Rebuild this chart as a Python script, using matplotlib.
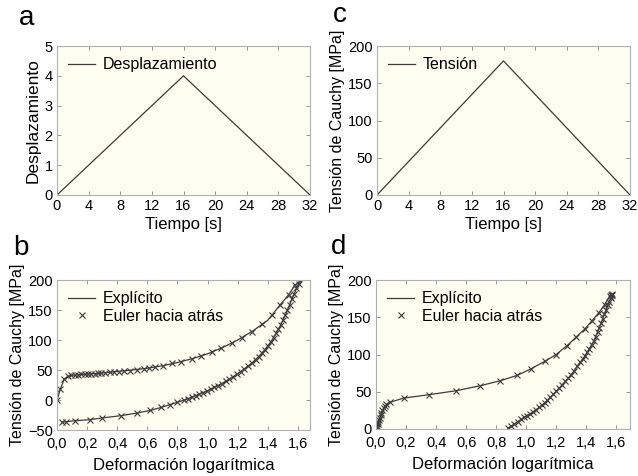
import matplotlib
matplotlib.use("Agg")
import matplotlib.pyplot as plt
from matplotlib.ticker import FuncFormatter

plt.rcParams['font.family'] = ['Liberation Sans', 'DejaVu Sans']

# ---- Data ----
time_s = [0, 16, 32]
displacement = [0, 4, 0]
stress_c = [0, 180, 0]

# Panel b: explicit line (loading then unloading)
b_line_x = [0, 0.022, 0.048, 0.073, 0.1, 0.15, 0.2, 0.3, 0.4, 0.5, 0.6, 0.7, 0.8, 0.9, 1.0, 1.1, 1.2, 1.3,
            1.4, 1.483, 1.538, 1.582, 1.625,
            1.605, 1.575, 1.545, 1.515, 1.485, 1.455, 1.42, 1.38, 1.34, 1.295, 1.245, 1.195, 1.145, 1.095,
            1.045, 0.995, 0.945, 0.895, 0.84, 0.797, 0.748, 0.693, 0.62, 0.531, 0.425, 0.299, 0.217, 0.122,
            0.062, 0.033]
b_line_y = [0, 18, 35, 39.4, 41.2, 42.4, 43.3, 45, 47.5, 50, 53, 57, 62.5, 69, 77, 87.5, 100, 115,
            133, 159, 175.5, 192, 199,
            194, 177, 159, 141, 125, 111, 97, 84, 72.5, 62, 52, 43, 35, 27.5,
            21, 15, 10, 4.5, -0.5, -4, -7.8, -12.3, -17.3, -21.7, -26.1, -30, -32.8, -34.5,
            -36.2, -37.3]

# Panel b: backward Euler points
b_mark_x = [0.0, 0.022, 0.048, 0.073, 0.095, 0.117, 0.139, 0.161, 0.183, 0.206, 0.228, 0.250, 0.272,
            0.294, 0.321, 0.349, 0.376, 0.409, 0.442, 0.487, 0.531, 0.575, 0.613, 0.653, 0.701, 0.764,
            0.825, 0.896, 0.956, 1.029, 1.091, 1.162, 1.228, 1.295, 1.361, 1.428, 1.483, 1.538, 1.582,
            1.605, 1.59, 1.575, 1.56, 1.545, 1.53, 1.515, 1.50, 1.485, 1.47, 1.455, 1.44, 1.42, 1.40,
            1.38, 1.36, 1.34, 1.32, 1.295, 1.27, 1.245, 1.22, 1.195, 1.17, 1.145, 1.12, 1.095, 1.07,
            1.045, 1.02, 0.995, 0.97, 0.945, 0.92, 0.895, 0.87, 0.84, 0.797, 0.748, 0.693, 0.620,
            0.531, 0.425, 0.299, 0.217, 0.122, 0.062, 0.033]
b_mark_y = [0, 18.3, 35, 39.4, 41, 41.6, 42.2, 42.7, 42.7, 43.3, 43.8, 43.8, 44.4,
            45, 45.5, 46, 46.6, 47.2, 47.7, 48.8, 50.5, 52, 53, 55, 57, 61,
            64, 68.3, 73.8, 79.3, 86, 95, 103, 114, 127, 142, 159, 175.5, 192,
            194, 186, 177, 168, 159, 150, 141, 133, 125, 118, 111, 104, 97, 90,
            84, 78, 72.5, 67.5, 62, 57, 52, 47.5, 43, 39, 35, 31, 27.5, 24,
            21, 18, 15, 12.5, 10, 7.5, 4.5, 2, -0.5, -4, -7.8, -12.3, -17.3,
            -21.7, -26.1, -30, -32.8, -34.5, -36.2, -37.3]

# Panel d: explicit line (loading then unloading)
d_line_x = [0, 0.01, 0.02, 0.035, 0.05, 0.065, 0.091, 0.186, 0.352, 0.534, 0.694, 0.827, 0.940, 1.033,
            1.122, 1.199, 1.272, 1.332, 1.388, 1.436, 1.481, 1.521, 1.554, 1.572,
            1.562, 1.542, 1.52, 1.498, 1.474, 1.45, 1.42, 1.39, 1.36, 1.32, 1.28, 1.24, 1.20, 1.16,
            1.122, 1.085, 1.045, 1.005, 0.965, 0.92, 0.878]
d_line_y = [0, 5, 11, 19, 26, 31, 35.7, 41.6, 46, 51.4, 58.1, 64.8, 72, 81,
            90.7, 100, 112, 123.5, 134, 145, 155.7, 166.8, 178, 181,
            176, 166, 154, 142, 130, 118.5, 108, 98, 90, 78.5, 68.5, 59.5, 51, 42.5,
            35, 29, 23, 18, 13, 6.5, 1]

# Panel d: backward Euler points
d_mark_x = [0.0, 0.004, 0.008, 0.012, 0.016, 0.02, 0.025, 0.03, 0.036, 0.043, 0.05, 0.058, 0.067,
            0.091, 0.186, 0.352, 0.534, 0.694, 0.827, 0.940, 1.033, 1.122, 1.199, 1.272, 1.332,
            1.388, 1.436, 1.481, 1.521, 1.554, 1.565, 1.572,
            1.57, 1.562, 1.552, 1.542, 1.532, 1.52, 1.51, 1.498, 1.486, 1.474, 1.462, 1.45, 1.435,
            1.42, 1.405, 1.39, 1.375, 1.36, 1.34, 1.32, 1.30, 1.28, 1.26, 1.24, 1.22, 1.20, 1.18,
            1.16, 1.14, 1.122, 1.105, 1.085, 1.065, 1.045, 1.025, 1.005, 0.985, 0.965, 0.944, 0.92,
            0.90, 0.878]
d_mark_y = [0, 2, 4.5, 7, 9.5, 12, 15, 18.5, 22, 25.5, 28.5, 31.5, 33.5,
            35.7, 41.6, 46, 51.4, 58.1, 64.8, 72, 81, 90.7, 100, 112, 123.5,
            134, 145, 155.7, 166.8, 178, 180, 181,
            180, 176, 171, 166, 160, 154, 148, 142, 136, 130, 124, 118.5, 113,
            108, 103, 98, 94, 90, 84, 78.5, 73, 68.5, 64, 59.5, 55, 51, 46.5,
            42.5, 38.5, 35, 32, 29, 26, 23, 20.5, 18, 15.5, 13, 10, 6.5,
            4, 1]

time_ticks = [0, 4, 8, 12, 16, 20, 24, 28, 32]
strain_ticks = [0.0, 0.2, 0.4, 0.6, 0.8, 1.0, 1.2, 1.4, 1.6]

# ---- Style ----
BG = '#fdfdf0'
LC = '#3c3c3c'
SP = '#b0b0b0'
TICK_FS = 10.5
LAB_FS = 12
YLAB_FS = 11.5
LEG_FS = 11.5

fig = plt.figure(figsize=(6.38, 4.76), dpi=100)
W, H = 638, 476

def make_ax(l, r, t, b):
    ax = fig.add_axes([l / W, 1 - b / H, (r - l) / W, (b - t) / H])
    ax.set_facecolor(BG)
    for s in ax.spines.values():
        s.set_color(SP)
        s.set_linewidth(0.8)
    ax.tick_params(direction='in', length=3, width=0.6, color='#888888', top=True, right=True,
                   labelsize=TICK_FS, pad=3)
    return ax

comma = FuncFormatter(lambda v, p: f"{v:.1f}".replace('.', ','))

ax_a = make_ax(57, 310, 46, 195)
ax_c = make_ax(377, 630, 46, 195)
ax_b = make_ax(57, 310, 280, 430)
ax_d = make_ax(376, 630, 280, 429)

# a
ax_a.plot(time_s, displacement, color=LC, lw=0.9, label='Desplazamiento')
ax_a.set_xlim(0, 32)
ax_a.set_ylim(0, 5)
ax_a.set_xticks(time_ticks)
ax_a.set_yticks([0, 1, 2, 3, 4, 5])
ax_a.set_xlabel('Tiempo [s]', fontsize=LAB_FS, labelpad=3)
ax_a.set_ylabel('Desplazamiento', fontsize=12.5, labelpad=3)

# c
ax_c.plot(time_s, stress_c, color=LC, lw=0.9, label='Tensión')
ax_c.set_xlim(0, 32)
ax_c.set_ylim(0, 200)
ax_c.set_xticks(time_ticks)
ax_c.set_yticks([0, 50, 100, 150, 200])
ax_c.set_xlabel('Tiempo [s]', fontsize=LAB_FS, labelpad=3)
ax_c.set_ylabel('Tensión de Cauchy [MPa]', fontsize=YLAB_FS, labelpad=2)

# b
ax_b.plot(b_line_x, b_line_y, color=LC, lw=0.9, label='Explícito')
ax_b.plot(b_mark_x, b_mark_y, ls='none', marker='x', ms=4, mew=0.8, color=LC, label='Euler hacia atrás')
ax_b.set_xlim(0, 1.68)
ax_b.set_ylim(-50, 200)
ax_b.set_xticks(strain_ticks)
ax_b.xaxis.set_major_formatter(comma)
ax_b.set_yticks([-50, 0, 50, 100, 150, 200])
ax_b.set_xlabel('Deformación logarítmica', fontsize=LAB_FS, labelpad=5)
ax_b.set_ylabel('Tensión de Cauchy [MPa]', fontsize=YLAB_FS, labelpad=2)

# d
ax_d.plot(d_line_x, d_line_y, color=LC, lw=0.9, label='Explícito')
ax_d.plot(d_mark_x, d_mark_y, ls='none', marker='x', ms=4, mew=0.8, color=LC, label='Euler hacia atrás')
ax_d.set_xlim(0, 1.69)
ax_d.set_ylim(0, 200)
ax_d.set_xticks(strain_ticks)
ax_d.xaxis.set_major_formatter(comma)
ax_d.set_yticks([0, 50, 100, 150, 200])
ax_d.set_xlabel('Deformación logarítmica', fontsize=LAB_FS, labelpad=5)
ax_d.set_ylabel('Tensión de Cauchy [MPa]', fontsize=YLAB_FS, labelpad=2)
ax_d.tick_params(axis='x', pad=5)
ax_b.tick_params(axis='x', pad=5)

for ax in (ax_a, ax_c, ax_b, ax_d):
    ax.legend(loc='upper left', frameon=False, fontsize=LEG_FS, handlelength=1.7,
              handletextpad=0.45, borderaxespad=0.3, labelspacing=0.15, borderpad=0.4)

for txt, x, y in (('a', 19, 25), ('c', 333, 22), ('b', 13, 255), ('d', 331, 254)):
    fig.text(x / W, 1 - y / H, txt, fontsize=20, ha='left', va='baseline')

fig.savefig('out.png', dpi=100, facecolor='white')
